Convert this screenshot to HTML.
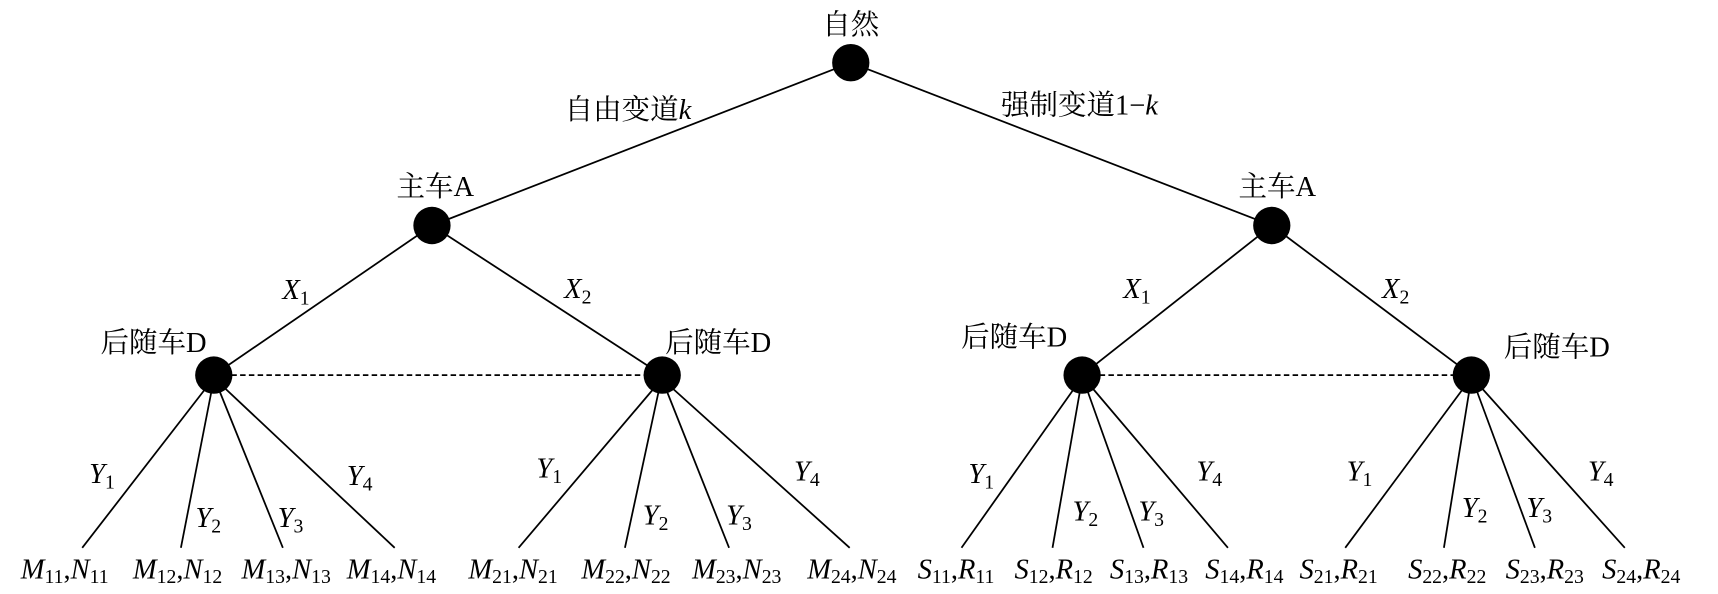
<!DOCTYPE html>
<html><head><meta charset="utf-8"><style>
html,body{margin:0;padding:0;background:#fff;}
svg{display:block;}
text{font-family:"Liberation Serif","Noto Serif CJK SC",serif;fill:#000;}
.c{font-size:26px;}
.i{font-style:italic;font-size:26px;}
.s{font-style:normal;font-size:18px;}
</style></head><body>
<svg width="1718" height="594" viewBox="0 0 1567 540" preserveAspectRatio="none" xmlns="http://www.w3.org/2000/svg">
<g stroke="#000" stroke-width="1.6" fill="none">
<line x1="776" y1="57" x2="394" y2="205"/>
<line x1="776" y1="57" x2="1160" y2="205"/>
<line x1="394" y1="205" x2="195" y2="341"/>
<line x1="394" y1="205" x2="604" y2="341"/>
<line x1="1160" y1="205" x2="987" y2="341"/>
<line x1="1160" y1="205" x2="1342" y2="341"/>
<line x1="195" y1="341" x2="604" y2="341" stroke-dasharray="5,3"/>
<line x1="987" y1="341" x2="1342" y2="341" stroke-dasharray="5,3"/>
<line x1="190" y1="350" x2="75" y2="498"/>
<line x1="194" y1="350" x2="165" y2="498"/>
<line x1="198" y1="350" x2="258" y2="498"/>
<line x1="202" y1="350" x2="360" y2="498"/>
<line x1="599" y1="350" x2="473" y2="498"/>
<line x1="602" y1="350" x2="570" y2="498"/>
<line x1="606" y1="350" x2="665" y2="498"/>
<line x1="610" y1="350" x2="775" y2="498"/>
<line x1="982" y1="350" x2="877" y2="498"/>
<line x1="986" y1="350" x2="960" y2="498"/>
<line x1="990" y1="350" x2="1043" y2="498"/>
<line x1="994" y1="350" x2="1120" y2="498"/>
<line x1="1337" y1="350" x2="1227" y2="498"/>
<line x1="1341" y1="350" x2="1317" y2="498"/>
<line x1="1345" y1="350" x2="1400" y2="498"/>
<line x1="1349" y1="350" x2="1482" y2="498"/>
</g>
<g fill="#000">
<circle cx="776" cy="57" r="17"/>
<circle cx="394" cy="205" r="17"/>
<circle cx="1160" cy="205" r="17"/>
<circle cx="195" cy="341" r="17"/>
<circle cx="604" cy="341" r="17"/>
<circle cx="987" cy="341" r="17"/>
<circle cx="1342" cy="341" r="17"/>
</g>
<g class="c" text-anchor="middle">
<text x="776" y="31">自然</text>
<text x="397" y="178">主车A</text>
<text x="1165" y="178">主车A</text>
<text x="140" y="320">后随车D</text>
<text x="655" y="320">后随车D</text>
<text x="925" y="315">后随车D</text>
<text x="1420" y="324">后随车D</text>
</g>
<text class="c" x="515" y="108">自由变道<tspan font-style="italic">k</tspan></text>
<text class="c" x="913" y="104">强制变道1−<tspan font-style="italic">k</tspan></text>
<g class="i" text-anchor="middle">
<text x="270" y="272">X<tspan class="s" dy="5">1</tspan></text>
<text x="527" y="271">X<tspan class="s" dy="5">2</tspan></text>
<text x="1037" y="271">X<tspan class="s" dy="5">1</tspan></text>
<text x="1273" y="271">X<tspan class="s" dy="5">2</tspan></text>
<text x="93" y="439">Y<tspan class="s" dy="5">1</tspan></text>
<text x="190" y="479">Y<tspan class="s" dy="5">2</tspan></text>
<text x="265" y="479">Y<tspan class="s" dy="5">3</tspan></text>
<text x="328" y="441">Y<tspan class="s" dy="5">4</tspan></text>
<text x="501" y="434">Y<tspan class="s" dy="5">1</tspan></text>
<text x="598" y="477">Y<tspan class="s" dy="5">2</tspan></text>
<text x="674" y="477">Y<tspan class="s" dy="5">3</tspan></text>
<text x="736" y="437">Y<tspan class="s" dy="5">4</tspan></text>
<text x="895" y="439">Y<tspan class="s" dy="5">1</tspan></text>
<text x="990" y="473">Y<tspan class="s" dy="5">2</tspan></text>
<text x="1050" y="473">Y<tspan class="s" dy="5">3</tspan></text>
<text x="1103" y="437">Y<tspan class="s" dy="5">4</tspan></text>
<text x="1240" y="437">Y<tspan class="s" dy="5">1</tspan></text>
<text x="1345" y="470">Y<tspan class="s" dy="5">2</tspan></text>
<text x="1404" y="470">Y<tspan class="s" dy="5">3</tspan></text>
<text x="1460" y="437">Y<tspan class="s" dy="5">4</tspan></text>
</g>
<g class="i" text-anchor="middle">
<text x="59" y="526">M<tspan class="s" dy="4">11</tspan><tspan dy="-4" font-style="normal">,</tspan>N<tspan class="s" dy="4">11</tspan></text>
<text x="162" y="526">M<tspan class="s" dy="4">12</tspan><tspan dy="-4" font-style="normal">,</tspan>N<tspan class="s" dy="4">12</tspan></text>
<text x="261" y="526">M<tspan class="s" dy="4">13</tspan><tspan dy="-4" font-style="normal">,</tspan>N<tspan class="s" dy="4">13</tspan></text>
<text x="357" y="526">M<tspan class="s" dy="4">14</tspan><tspan dy="-4" font-style="normal">,</tspan>N<tspan class="s" dy="4">14</tspan></text>
<text x="468" y="526">M<tspan class="s" dy="4">21</tspan><tspan dy="-4" font-style="normal">,</tspan>N<tspan class="s" dy="4">21</tspan></text>
<text x="571" y="526">M<tspan class="s" dy="4">22</tspan><tspan dy="-4" font-style="normal">,</tspan>N<tspan class="s" dy="4">22</tspan></text>
<text x="672" y="526">M<tspan class="s" dy="4">23</tspan><tspan dy="-4" font-style="normal">,</tspan>N<tspan class="s" dy="4">23</tspan></text>
<text x="777" y="526">M<tspan class="s" dy="4">24</tspan><tspan dy="-4" font-style="normal">,</tspan>N<tspan class="s" dy="4">24</tspan></text>
<text x="872" y="526">S<tspan class="s" dy="4">11</tspan><tspan dy="-4" font-style="normal">,</tspan>R<tspan class="s" dy="4">11</tspan></text>
<text x="961" y="526">S<tspan class="s" dy="4">12</tspan><tspan dy="-4" font-style="normal">,</tspan>R<tspan class="s" dy="4">12</tspan></text>
<text x="1048" y="526">S<tspan class="s" dy="4">13</tspan><tspan dy="-4" font-style="normal">,</tspan>R<tspan class="s" dy="4">13</tspan></text>
<text x="1135" y="526">S<tspan class="s" dy="4">14</tspan><tspan dy="-4" font-style="normal">,</tspan>R<tspan class="s" dy="4">14</tspan></text>
<text x="1221" y="526">S<tspan class="s" dy="4">21</tspan><tspan dy="-4" font-style="normal">,</tspan>R<tspan class="s" dy="4">21</tspan></text>
<text x="1320" y="526">S<tspan class="s" dy="4">22</tspan><tspan dy="-4" font-style="normal">,</tspan>R<tspan class="s" dy="4">22</tspan></text>
<text x="1409" y="526">S<tspan class="s" dy="4">23</tspan><tspan dy="-4" font-style="normal">,</tspan>R<tspan class="s" dy="4">23</tspan></text>
<text x="1497" y="526">S<tspan class="s" dy="4">24</tspan><tspan dy="-4" font-style="normal">,</tspan>R<tspan class="s" dy="4">24</tspan></text>
</g>
</svg>
</body></html>
